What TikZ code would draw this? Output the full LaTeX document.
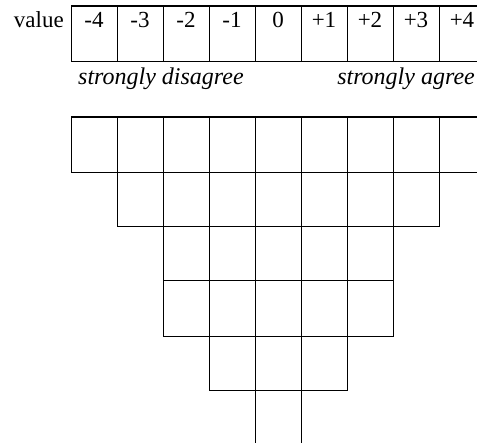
\documentclass[tikz,border=0pt]{standalone}
\usepackage{fontspec}
\setmainfont{Liberation Serif}
\usetikzlibrary{positioning}

\begin{document}
\begin{tikzpicture}[x=1pt, y=-1pt,
    cellline/.style={draw=black, line width=0.9pt},
    headrule/.style={draw=black, line width=1.6pt},
    score/.style={font=\fontsize{23}{26}\selectfont, anchor=base, inner sep=0pt},
    pole/.style={font=\fontsize{24}{27}\selectfont\itshape, inner sep=0pt}
  ]
  \useasboundingbox (0,0) rectangle (477,443);
  \clip (0,0) rectangle (477,443);
  % scale row
  \node[score, anchor=base east] (valuelbl) at (64,28) {value};
  \foreach \v [count=\i from 0] in {-4,-3,-2,-1,0,+1,+2,+3,+4}
    \node[score] (v\i) at (94+46*\i,28) {\v};
  \draw[cellline] (71,6) rectangle (485,61);
  \foreach \i in {1,...,8}
    \draw[cellline] (71+46*\i,6) -- (71+46*\i,61);
  \draw[headrule] (71,6) -- (485,6);
  \node[pole, anchor=base west] (disagree) at (78,85) {strongly disagree};
  \node[pole, anchor=base east] (agree) at (475,85) {strongly agree};
  % sorting grid
  \foreach \ya/\yb/\xa/\nc in {117/172/71/9, 172/226/117/7, 226/280/163/5,
      280/336/163/5, 336/390/209/3, 390/452/255/1}
    \foreach \k in {1,...,\nc}
      \draw[cellline] (\xa+46*\k-46,\ya) rectangle ++(46,\yb-\ya);
  \draw[headrule] (71,117) -- (485,117);
\end{tikzpicture}
\end{document}
